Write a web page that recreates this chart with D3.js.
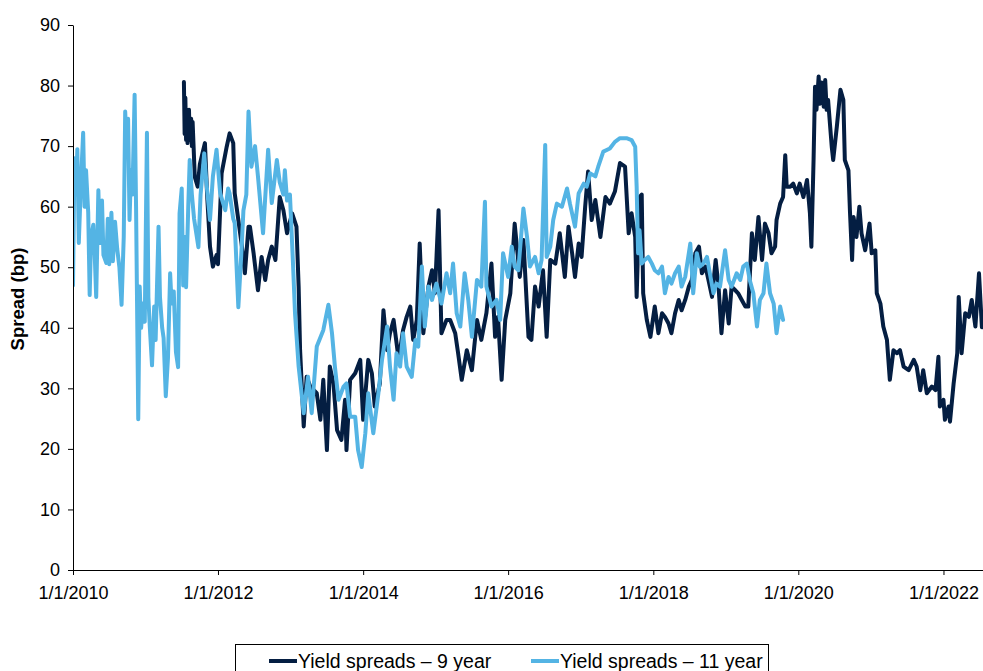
<!DOCTYPE html>
<html>
<head>
<meta charset="utf-8">
<script src="https://cdn.jsdelivr.net/npm/d3@7"></script>
<style>
  html, body { margin: 0; padding: 0; background: #fff; }
  svg { display: block; font-family: "Liberation Sans", Arial, sans-serif; }
</style>
</head>
<body>
<svg id="chart" width="983" height="671"></svg>
<script>
// Yield spreads (bp), observation dates given as decimal years
const lightYears = [
  2010.00, 2010.02, 2010.04, 2010.06, 2010.08, 2010.11, 2010.14, 2010.16, 2010.18, 2010.21,
  2010.23, 2010.25, 2010.28, 2010.30, 2010.32, 2010.35, 2010.37, 2010.40, 2010.42, 2010.46,
  2010.48, 2010.50, 2010.53, 2010.55, 2010.58, 2010.61, 2010.64, 2010.67, 2010.70, 2010.72,
  2010.74, 2010.76, 2010.78, 2010.80, 2010.82, 2010.85, 2010.87, 2010.90, 2010.92, 2010.94,
  2010.96, 2010.99, 2011.02, 2011.04, 2011.06, 2011.09, 2011.12, 2011.14, 2011.18, 2011.20,
  2011.23, 2011.25, 2011.28, 2011.31, 2011.34, 2011.36, 2011.39, 2011.42, 2011.45, 2011.47,
  2011.50, 2011.52, 2011.54, 2011.56, 2011.59, 2011.61, 2011.64, 2011.67, 2011.73, 2011.76,
  2011.81, 2011.84, 2011.89, 2011.93, 2011.98, 2012.03, 2012.10, 2012.14, 2012.16, 2012.21,
  2012.23, 2012.28, 2012.32, 2012.35, 2012.39, 2012.42, 2012.46, 2012.51, 2012.55, 2012.62,
  2012.69, 2012.74, 2012.81, 2012.85, 2012.90, 2012.92, 2012.95, 2012.99, 2013.03, 2013.06,
  2013.11, 2013.18, 2013.24, 2013.29, 2013.36, 2013.45, 2013.52, 2013.57, 2013.61, 2013.66,
  2013.73, 2013.77, 2013.82, 2013.89, 2013.93, 2013.98, 2014.03, 2014.07, 2014.14, 2014.21,
  2014.26, 2014.33, 2014.37, 2014.42, 2014.46, 2014.51, 2014.55, 2014.60, 2014.67, 2014.72,
  2014.76, 2014.81, 2014.85, 2014.90, 2014.95, 2015.01, 2015.08, 2015.15, 2015.20, 2015.24,
  2015.29, 2015.34, 2015.40, 2015.45, 2015.50, 2015.57, 2015.63, 2015.68, 2015.70, 2015.77,
  2015.84, 2015.89, 2015.93, 2016.00, 2016.05, 2016.09, 2016.14, 2016.21, 2016.26, 2016.30,
  2016.37, 2016.42, 2016.46, 2016.51, 2016.53, 2016.58, 2016.62, 2016.67, 2016.74, 2016.81,
  2016.85, 2016.92, 2016.97, 2017.04, 2017.08, 2017.13, 2017.20, 2017.24, 2017.31, 2017.40,
  2017.47, 2017.54, 2017.63, 2017.70, 2017.75, 2017.77, 2017.79, 2017.81, 2017.84, 2017.88,
  2017.93, 2017.98, 2018.02, 2018.07, 2018.12, 2018.16, 2018.21, 2018.25, 2018.30, 2018.35,
  2018.39, 2018.44, 2018.51, 2018.55, 2018.60, 2018.64, 2018.69, 2018.74, 2018.78, 2018.83,
  2018.87, 2018.92, 2018.99, 2019.04, 2019.08, 2019.15, 2019.20, 2019.24, 2019.29, 2019.33,
  2019.38, 2019.43, 2019.47, 2019.52, 2019.56, 2019.61, 2019.66, 2019.70, 2019.75, 2019.79
];
const lightValues = [
  47, 68, 62, 69.5, 54, 64, 72.2, 60, 66, 59,
  45.4, 55, 57, 52, 45.1, 62.7, 54, 61, 52, 50.7,
  58, 50.5, 59, 51, 57.5, 53, 50, 43.8, 55, 75.7,
  70, 74.5, 57.8, 66, 62, 78.5, 60, 24.9, 46.8, 40,
  44, 41, 72.2, 45, 40, 33.8, 43.5, 38, 56.7, 45,
  40, 38.3, 28.7, 35, 49, 44, 46, 36, 33.5, 58.9,
  63, 47, 55, 46.7, 60, 67.7, 62, 58, 53.3, 62,
  68.8, 64, 57.8, 65, 69.4, 62.2, 59.4, 63, 62.2, 58,
  57.3, 43.4, 52, 59.4, 62, 75.7, 66.6, 70, 65, 55.6,
  69.4, 60.6, 67.7, 64, 62, 66, 61, 62, 51.2, 42.4,
  33.6, 25.9, 31.9, 25.9, 36.9, 39.6, 43.8, 39.1, 33.6, 28.1,
  30.3, 30.8, 25.3, 25.3, 19.8, 17.0, 22.6, 29.2, 22.6, 29.2,
  34.7, 40.2, 33.6, 28.1, 35.8, 33.6, 39.1, 33.6, 31.9, 38,
  36.9, 50.1, 40.2, 46.8, 44.6, 47.3, 44, 49, 45.7, 50.6,
  42.4, 40.2, 49, 44.6, 38.5, 47.9, 46.8, 60.8, 46.8, 43.5,
  44.6, 41.3, 52.3, 48.4, 53.4, 50.1, 49.5, 59.7, 55, 50.1,
  51.7, 49, 51.2, 70.2, 51.7, 53.4, 57.8, 60.5, 60, 63,
  60.5, 56.7, 62.2, 63.8, 63.3, 65.5, 65, 66.6, 69.1, 69.6,
  70.7, 71.3, 71.3, 71, 69.9, 63.3, 52.3, 56.1, 50.6, 51.2,
  51.7, 50.6, 49.5, 49, 50.1, 45.7, 48.4, 47.3, 49, 50.1,
  46.8, 48.4, 53.9, 45.7, 52.3, 50.1, 50.6, 51.7, 49, 45.7,
  47.3, 46.8, 52.8, 47.9, 46.8, 49, 47.9, 50.1, 50.6, 47.9,
  45.7, 40.2, 44.6, 45.7, 50.6, 45.7, 44, 39.1, 43.5, 41.3
];

const darkYears = [
  2011.53, 2011.54, 2011.55, 2011.56, 2011.57, 2011.58, 2011.60, 2011.61, 2011.63, 2011.64,
  2011.65, 2011.68, 2011.72, 2011.75, 2011.82,
  2011.85, 2011.89, 2011.93, 2011.98, 2012.00, 2012.05, 2012.12, 2012.16, 2012.21, 2012.23,
  2012.33, 2012.37, 2012.42, 2012.44, 2012.49, 2012.55, 2012.60, 2012.65, 2012.69, 2012.74,
  2012.79, 2012.85, 2012.90, 2012.95, 2013.02, 2013.08, 2013.11, 2013.13, 2013.18, 2013.22,
  2013.27, 2013.36, 2013.41, 2013.45, 2013.50, 2013.54, 2013.59, 2013.64, 2013.70, 2013.75,
  2013.77, 2013.82, 2013.89, 2013.96, 2014.00, 2014.07, 2014.12, 2014.16, 2014.23, 2014.28,
  2014.33, 2014.37, 2014.42, 2014.49, 2014.55, 2014.60, 2014.65, 2014.69, 2014.74, 2014.78,
  2014.83, 2014.90, 2014.95, 2014.99, 2015.04, 2015.08, 2015.15, 2015.20, 2015.27, 2015.31,
  2015.36, 2015.43, 2015.50, 2015.57, 2015.63, 2015.70, 2015.77, 2015.82, 2015.86, 2015.91,
  2015.96, 2016.03, 2016.09, 2016.16, 2016.21, 2016.28, 2016.32, 2016.37, 2016.42, 2016.48,
  2016.53, 2016.58, 2016.65, 2016.71, 2016.78, 2016.83, 2016.88, 2016.92, 2016.97, 2017.01,
  2017.06, 2017.10, 2017.15, 2017.20, 2017.27, 2017.34, 2017.40, 2017.47, 2017.54, 2017.61,
  2017.66, 2017.70, 2017.75, 2017.77, 2017.81, 2017.84, 2017.86, 2017.91, 2017.96, 2018.02,
  2018.07, 2018.12, 2018.16, 2018.21, 2018.25, 2018.30, 2018.35, 2018.39, 2018.44, 2018.49,
  2018.53, 2018.58, 2018.63, 2018.67, 2018.72, 2018.76, 2018.81, 2018.86, 2018.90, 2018.94,
  2018.99, 2019.04, 2019.08, 2019.13, 2019.17, 2019.22, 2019.27, 2019.31, 2019.36, 2019.40,
  2019.45, 2019.50, 2019.54, 2019.59, 2019.63, 2019.68, 2019.70, 2019.75, 2019.79, 2019.82,
  2019.84, 2019.89, 2019.93, 2019.98, 2020.02, 2020.07, 2020.12, 2020.16, 2020.18, 2020.21,
  2020.23, 2020.25, 2020.28, 2020.30, 2020.32, 2020.35, 2020.37, 2020.39, 2020.41, 2020.46,
  2020.48, 2020.53, 2020.58, 2020.62,
  2020.64, 2020.69, 2020.71, 2020.74, 2020.76, 2020.80, 2020.84, 2020.87, 2020.92, 2020.98,
  2021.01, 2021.06, 2021.08, 2021.13, 2021.17, 2021.22, 2021.26, 2021.31, 2021.36, 2021.40,
  2021.45, 2021.52, 2021.59, 2021.63, 2021.68, 2021.72, 2021.77, 2021.84, 2021.89, 2021.93,
  2021.95, 2022.00, 2022.02, 2022.07, 2022.09, 2022.14, 2022.19, 2022.21, 2022.25, 2022.30,
  2022.35, 2022.39, 2022.44, 2022.49, 2022.53, 2022.55
];
const darkValues = [
  80.6, 72, 78, 71, 76, 70.5, 76, 71, 74.5, 70,
  74, 64.9, 63.3, 67, 70.5,
  62, 53.4, 50.1, 52, 50.5, 65.5, 69.9, 72.1, 70.5, 62.2,
  53.4, 49, 56.7, 56.7, 52.3, 46.2, 51.7, 47.9, 51.2, 53.4,
  51.2, 61.6, 59.4, 55.6, 58.9, 56.7, 46.8, 36.3, 23.7, 31.9,
  30.3, 29.2, 24.8, 31.4, 19.8, 33.6, 30.8, 23.1, 21.5, 28.1,
  19.8, 31.4, 32.5, 34.7, 24.8, 34.7, 32.5, 27, 30.8, 42.9,
  36.3, 39.1, 41.3, 34.7, 39.6, 41.8, 43.5, 38, 41.3, 53.9,
  39.1, 46.8, 49.5, 45.7, 59.4, 39.1, 41.3, 41.3, 39.1, 35.8,
  31.4, 36.3, 33, 41.3, 38, 42.4, 50.6, 38.5, 41.8, 31.4,
  41.3, 45.7, 57.2, 48.4, 54.5, 38.5, 38, 46.8, 43.5, 49.5,
  38.5, 51.2, 50.6, 55.6, 48.4, 56.7, 52.3, 48.4, 53.9, 51.7,
  60, 65.8, 57.8, 61.1, 55, 61.6, 60.5, 62.5, 67.2, 66.6,
  55.6, 58.9, 55, 45.1, 61.6, 62, 45.7, 41.3, 38.5, 43.5,
  39.1, 42.4, 41.8, 40.7, 39.1, 42.4, 44.6, 42.9, 44.6, 46.8,
  47.9, 52.3, 53.4, 49, 50.1, 47.9, 45.1, 51.2, 46.8, 39.1,
  46.2, 40.7, 46.8, 46.2, 45.7, 44.6, 43.5, 43.5, 55.6, 51.2,
  58.3, 51.2, 57.2, 55.6, 52.3, 53.4, 57.8, 60.5, 61.6, 68.5,
  63.3, 63.3, 63.8, 62.2, 63.8, 61.6, 64.4, 58.9, 53.4, 67.7,
  79.8, 76, 81.5, 77, 80.5, 76.5, 80.9, 76, 77.6, 69.9,
  67.7, 73.2, 79.3, 77.6,
  67.7, 66, 59.4, 51.2, 58.3, 55, 60, 55.6, 52.8, 57.2,
  52.3, 52.8, 45.7, 44, 40.2, 38, 31.4, 36.3, 35.8, 36.3,
  33.6, 33, 34.7, 33.6, 29.7, 33, 29.2, 30.3, 29.7, 35.2,
  27, 28.1, 24.8, 27, 24.5, 30.8, 35.8, 45.1, 35.8, 42.4,
  41.8, 44.6, 40.2, 49, 40.1, 42
];

const yTicks = [0, 10, 20, 30, 40, 50, 60, 70, 80, 90];
const xTickYears = [2010, 2012, 2014, 2016, 2018, 2020, 2022];
const seriesNames = ["Yield spreads \u2013 9 year", "Yield spreads \u2013 11 year"];
const seriesColors = ["#041E42", "#54B4E4"];

// decimal year -> UTC date
function yearToDate(y) {
  const yr = Math.floor(y);
  const a = Date.UTC(yr, 0, 1), b = Date.UTC(yr + 1, 0, 1);
  return new Date(a + (y - yr) * (b - a));
}

const darkSeries = darkYears.map((y, i) => ({ date: yearToDate(y), value: darkValues[i] }));
const lightSeries = lightYears.map((y, i) => ({ date: yearToDate(y), value: lightValues[i] }));

const svg = d3.select("#chart");
const plot = { left: 73, right: 983, top: 25, bottom: 570 };

const x = d3.scaleUtc()
  .domain([new Date(Date.UTC(2010, 0, 1)), new Date(Date.UTC(2022, 6, 19))])
  .range([plot.left, plot.right]);
const y = d3.scaleLinear().domain([0, 90]).range([plot.bottom, plot.top]);

svg.append("defs").append("clipPath").attr("id", "plot-clip")
  .append("rect")
  .attr("x", plot.left).attr("y", 0)
  .attr("width", plot.right - plot.left).attr("height", plot.bottom);

// series lines: 9-year underneath, 11-year on top
const line = d3.line().x(d => x(d.date)).y(d => y(d.value));
const lines = svg.append("g").attr("clip-path", "url(#plot-clip)");
[darkSeries, lightSeries].forEach((s, i) => {
  lines.append("path")
    .datum(s)
    .attr("fill", "none")
    .attr("stroke", seriesColors[i])
    .attr("stroke-width", 4)
    .attr("stroke-linejoin", "round")
    .attr("stroke-linecap", "round")
    .attr("d", line);
});

// y axis
const yAxis = svg.append("g")
  .attr("transform", `translate(${plot.left},0)`)
  .call(d3.axisLeft(y).tickValues(yTicks).tickSize(5).tickSizeOuter(0).tickPadding(8));
yAxis.selectAll("text").attr("font-size", 18).attr("fill", "#000")
  .attr("font-family", "'Liberation Sans', Arial, sans-serif");
yAxis.selectAll("line, path").attr("stroke", "#000");

// x axis
const xAxis = svg.append("g")
  .attr("transform", `translate(0,${plot.bottom})`)
  .call(d3.axisBottom(x)
    .tickValues(xTickYears.map(yr => new Date(Date.UTC(yr, 0, 1))))
    .tickFormat(d => `1/1/${d.getUTCFullYear()}`)
    .tickSize(5).tickSizeOuter(0).tickPadding(11));
xAxis.selectAll("text").attr("font-size", 18).attr("fill", "#000")
  .attr("font-family", "'Liberation Sans', Arial, sans-serif");
xAxis.selectAll("line, path").attr("stroke", "#000");

// axis title
svg.append("text")
  .attr("transform", "translate(24,299) rotate(-90)")
  .attr("text-anchor", "middle")
  .attr("font-size", 18.5).attr("font-weight", "bold").attr("fill", "#000")
  .text("Spread (bp)");

// legend
const legend = svg.append("g");
legend.append("rect")
  .attr("x", 235.5).attr("y", 644.5).attr("width", 533).attr("height", 50)
  .attr("fill", "#fff").attr("stroke", "#000").attr("stroke-width", 1);
const legendX = [269, 531];
seriesNames.forEach((name, i) => {
  const g = legend.append("g").attr("transform", `translate(${legendX[i]},661)`);
  g.append("line").attr("x1", 0).attr("x2", 28).attr("y1", 0).attr("y2", 0)
    .attr("stroke", seriesColors[i]).attr("stroke-width", 4);
  g.append("text").attr("x", 29).attr("y", 7)
    .attr("font-size", 19.5).attr("fill", "#000").text(name);
});
</script>
</body>
</html>
